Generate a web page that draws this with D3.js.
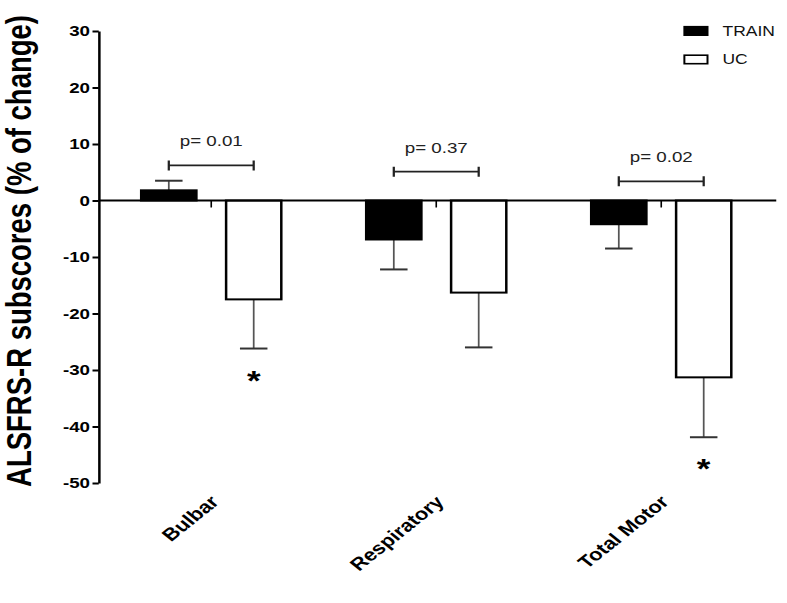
<!DOCTYPE html>
<html>
<head>
<meta charset="utf-8" />
<title>ALSFRS-R subscores</title>
<script src="https://d3js.org/d3.v7.min.js"></script>
<style>
body { margin: 0; background: #fff; }
text { font-family: "Liberation Sans", Arial, sans-serif; }
</style>
</head>
<body>
<script>
var categories = ["Bulbar", "Respiratory", "Total Motor"];
var groups = ["TRAIN", "UC"];
var trainMean = [1.8, -6.9, -4.2];
var trainErr = [1.7, 5.3, 4.3];
var ucMean = [-17.5, -16.3, -31.3];
var ucErr = [8.7, 9.7, 10.6];
var pLabels = ["p= 0.01", "p= 0.37", "p= 0.02"];
var pLevel = [6.2, 5.1, 3.4];
var significant = [true, false, true];
var yTicks = [30, 20, 10, 0, -10, -20, -30, -40, -50];

// the source picture is stretched sideways, so draw narrow and let the svg stretch it
var stretch = 1.25,
    width = 787, height = 603,
    innerW = width / stretch;

var svg = d3.select("body").append("svg")
    .attr("width", width)
    .attr("height", height)
    .attr("viewBox", "0 0 " + innerW + " " + height)
    .attr("preserveAspectRatio", "none");

var x0 = d3.scaleBand().domain(categories).range([79, 619]);
var x1 = d3.scaleBand().domain(groups).range([0, x0.bandwidth()])
    .paddingInner(0.35).paddingOuter(0.5);
var y = d3.scaleLinear().domain([-50, 30]).range([483, 31]);

var data = categories.map(function(c, i) {
  return {
    cat: c,
    bars: [
      { g: "TRAIN", v: trainMean[i], e: trainErr[i] },
      { g: "UC", v: ucMean[i], e: ucErr[i] }
    ],
    p: pLabels[i], lvl: pLevel[i], sig: significant[i]
  };
});

function cx(cat, g) { return x0(cat) + x1(g) + x1.bandwidth() / 2; }
function tip(b) { return b.v >= 0 ? b.v + b.e : b.v - b.e; }

var cat = svg.selectAll("g.cat")
    .data(data)
    .enter()
    .append("g")
    .attr("class", "cat");

// error bars (one sided, away from zero)
cat.each(function(d) {
  var g = d3.select(this);
  d.bars.forEach(function(b) {
    var x = cx(d.cat, b.g);
    g.append("line")
      .attr("x1", x).attr("x2", x)
      .attr("y1", y(b.v)).attr("y2", y(tip(b)))
      .attr("stroke", "#555").attr("stroke-width", 1.4);
    g.append("line")
      .attr("x1", x - 11).attr("x2", x + 11)
      .attr("y1", y(tip(b))).attr("y2", y(tip(b)))
      .attr("stroke", "#333").attr("stroke-width", 2);
  });
});

cat.selectAll("rect")
    .data(function(d) { return d.bars.map(function(b) { return { cat: d.cat, g: b.g, v: b.v }; }); })
    .enter()
    .append("rect")
    .attr("x", function(d) { return x0(d.cat) + x1(d.g); })
    .attr("y", function(d) { return y(Math.max(0, d.v)); })
    .attr("width", x1.bandwidth())
    .attr("height", function(d) { return Math.abs(y(d.v) - y(0)); })
    .attr("fill", function(d) { return d.g == "TRAIN" ? "#000" : "#fff"; })
    .attr("stroke", "#000")
    .attr("stroke-width", 2);

// zero line + small category ticks
svg.append("line")
    .attr("x1", 79).attr("x2", 621)
    .attr("y1", y(0)).attr("y2", y(0))
    .attr("stroke", "#000").attr("stroke-width", 2);

svg.selectAll("line.ctick")
    .data(categories)
    .enter()
    .append("line")
    .attr("class", "ctick")
    .attr("x1", function(d) { return x0(d) + x0.bandwidth() / 2; })
    .attr("x2", function(d) { return x0(d) + x0.bandwidth() / 2; })
    .attr("y1", y(0)).attr("y2", y(0) + 7)
    .attr("stroke", "#000").attr("stroke-width", 1.3);

// y axis (plain hyphen minus like the original)
var yAxis = svg.append("g")
    .attr("transform", "translate(79,0)")
    .call(d3.axisLeft(y).tickValues(yTicks).tickSize(5).tickSizeOuter(0).tickPadding(2)
      .tickFormat(function(d) { return String(d); }));
yAxis.select(".domain").attr("stroke-width", 2);
yAxis.selectAll(".tick line").attr("stroke-width", 2);
yAxis.selectAll(".tick text")
    .attr("font-family", "'Liberation Sans', Arial, sans-serif")
    .attr("font-size", "15px")
    .attr("font-weight", "bold")
    .attr("fill", "#000");

// p-value brackets
cat.each(function(d) {
  var g = d3.select(this),
      a = cx(d.cat, "TRAIN"), b = cx(d.cat, "UC"), yy = y(d.lvl);
  g.append("path")
    .attr("d", "M" + a + "," + yy + "H" + b +
               "M" + a + "," + (yy - 5) + "V" + (yy + 5) +
               "M" + b + "," + (yy - 5) + "V" + (yy + 5))
    .attr("fill", "none").attr("stroke", "#222").attr("stroke-width", 1.8);
  g.append("text")
    .attr("x", (a + b) / 2)
    .attr("y", yy - 19)
    .attr("text-anchor", "middle")
    .attr("font-size", "15px")
    .attr("fill", "#222")
    .text(d.p);
  if (d.sig) {
    g.append("text")
      .attr("x", b)
      .attr("y", y(tip(d.bars[1])) + 41)
      .attr("text-anchor", "middle")
      .attr("font-size", "28px")
      .attr("font-weight", "bold")
      .text("*");
  }
});

// x labels
svg.selectAll("text.xlab")
    .data(categories)
    .enter()
    .append("text")
    .attr("class", "xlab")
    .attr("transform", function(d) {
      return "translate(" + (x0(d) + x0.bandwidth() / 2 + 7) + ",503) rotate(-45)";
    })
    .attr("text-anchor", "end")
    .attr("font-size", "17.5px")
    .attr("font-weight", "bold")
    .text(function(d) { return d; });

// y title
svg.append("text")
    .attr("transform", "translate(25,251) rotate(-90)")
    .attr("text-anchor", "middle")
    .attr("font-size", "27.5px")
    .attr("font-weight", "bold")
    .text("ALSFRS-R subscores (% of change)");

// legend
var legend = svg.selectAll("g.leg")
    .data(groups)
    .enter()
    .append("g")
    .attr("class", "leg")
    .attr("transform", function(d, i) { return "translate(547," + (31 + i * 28.5) + ")"; });
legend.append("rect")
    .attr("x", 0.5).attr("y", -4.3)
    .attr("width", 18.5).attr("height", 8.5)
    .attr("fill", function(d) { return d == "TRAIN" ? "#000" : "#fff"; })
    .attr("stroke", "#000").attr("stroke-width", 1.6);
legend.append("text")
    .attr("x", 31).attr("y", 0)
    .attr("dy", "0.35em")
    .attr("font-size", "14px")
    .attr("fill", "#111")
    .text(function(d) { return d; });
</script>
</body>
</html>
